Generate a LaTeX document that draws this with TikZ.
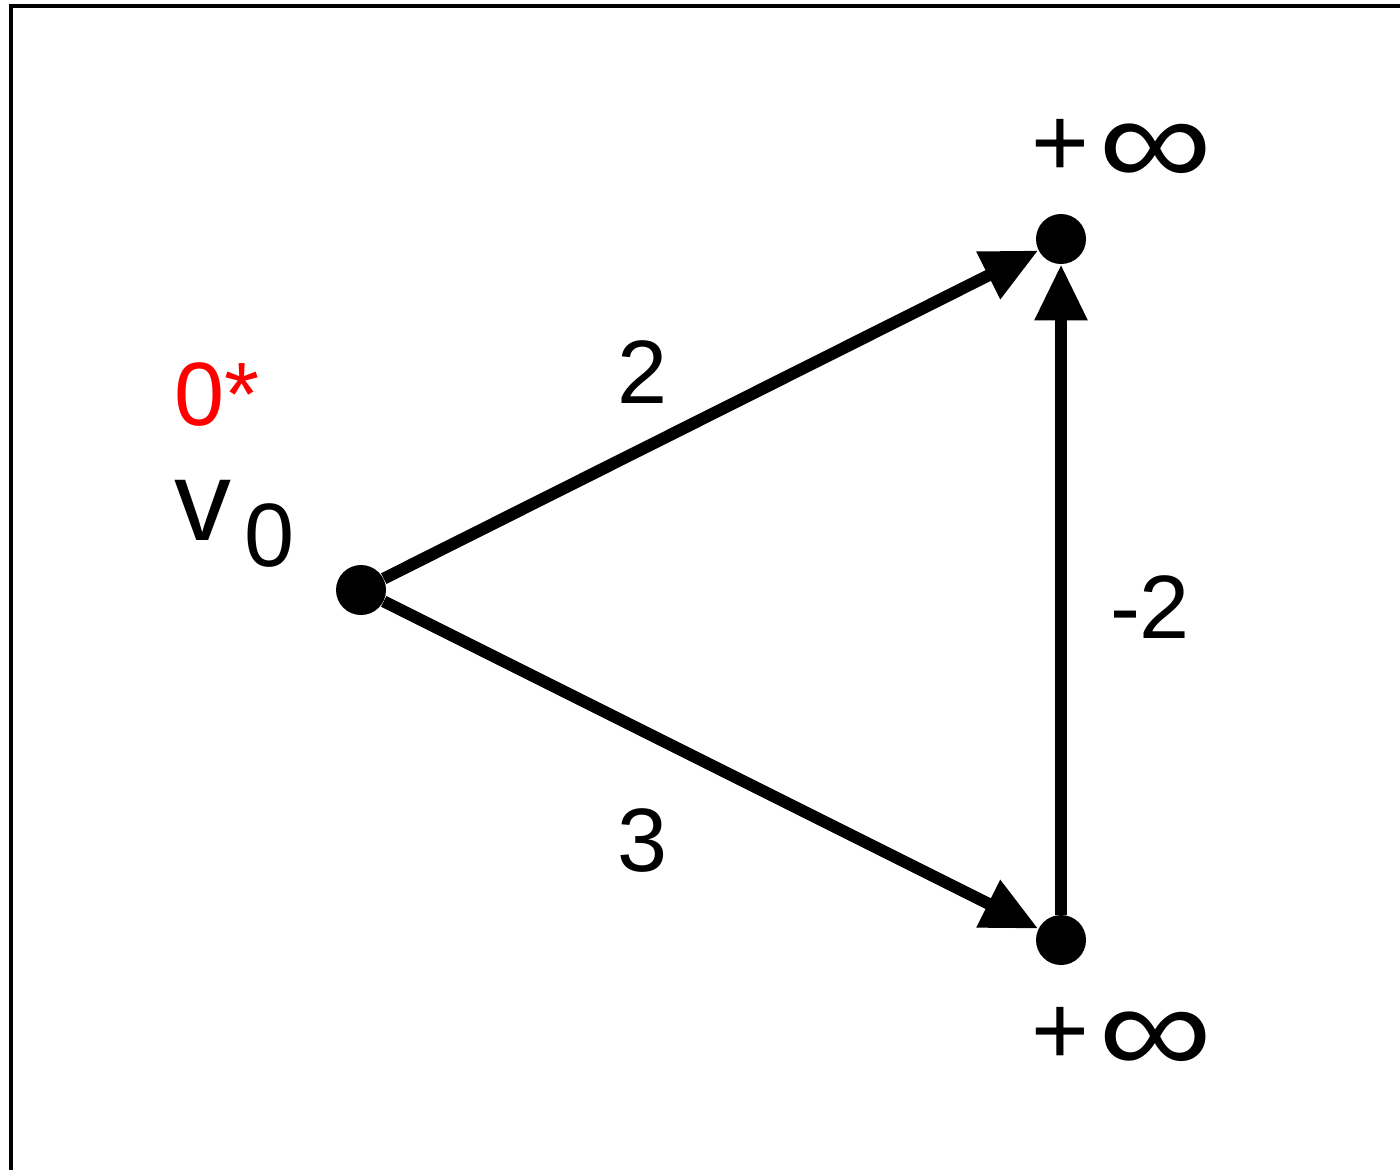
\documentclass[tikz,border=0pt]{standalone}
\usepackage{fontspec}
\setmainfont{Liberation Sans}
\usetikzlibrary{arrows.meta}
\newcommand{\biginf}{\scalebox{1.1}{+}\kern5pt\raisebox{-5pt}{\scalebox{1.78}[1.45]{∞}}}
\begin{document}
\begin{tikzpicture}[x=0.5pt,y=-0.5pt,
  vert/.style={circle,fill=black,inner sep=0pt,minimum size=25pt},
  edge/.style={line width=6pt,-{Triangle[length=28pt,width=25pt]}},
  lbl/.style={font=\fontsize{45}{50}\selectfont,inner sep=0pt}]
\useasboundingbox (0,0) rectangle (1400,1169);
\draw[line width=2pt] (11,1200) -- (11,6) -- (1420,6);
\node[vert] (v0) at (361,590) {};
\node[vert] (a) at (1061,239) {};
\node[vert] (b) at (1061,940) {};
\draw[edge] (v0) -- (a);
\draw[edge] (v0) -- (b);
\draw[edge] (b) -- (a);
\node[lbl] (l2) at (643,372) {2};
\node[lbl] (l3) at (643,840) {3};
\node[lbl] (lm2) at (1150,607) {-2};
\node[lbl] (ia) at (1122,153) {\biginf};
\node[lbl] (ib) at (1122,1041) {\biginf};
\node[lbl,text=red] (s) at (217,395) {0*};
\node[font=\fontsize{57}{60}\selectfont,inner sep=0pt] (v) at (203,510) {v};
\node[lbl] (sub) at (270,535) {0};
\end{tikzpicture}
\end{document}
